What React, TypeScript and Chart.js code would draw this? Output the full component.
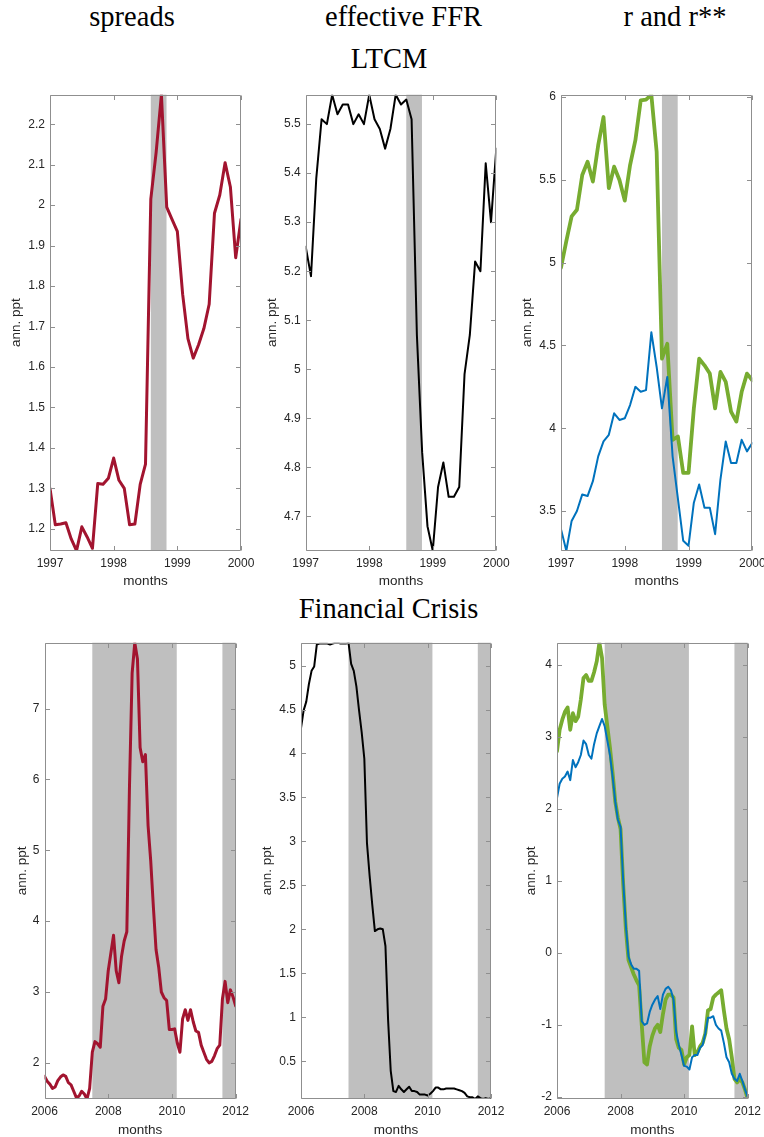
import React, { useEffect, useRef } from 'react';
import { Chart, registerables } from 'chart.js';

Chart.register(...registerables);
Chart.defaults.font.family = "'Liberation Sans', Arial, Helvetica, sans-serif";
Chart.defaults.color = '#262626';

// ---------- categories (monthly dates as decimal years) ----------
const ltcmMonths = Array.from({ length: 37 }, (_, i) => 1997 + i / 12);
const crisisMonths = Array.from({ length: 73 }, (_, i) => 2006 + i / 12);

// ---------- LTCM episode (Jan 1997 - Jan 2000) ----------
const ltcmSpreads = [
  1.30, 1.21, 1.212, 1.215, 1.175, 1.146, 1.205, 1.18, 1.152, 1.312, 1.31, 1.325,
  1.375, 1.32, 1.30, 1.21, 1.212, 1.31, 1.36, 2.015, 2.13, 2.273, 1.995, 1.965,
  1.935, 1.78, 1.67, 1.622, 1.655, 1.695, 1.755, 1.98, 2.025, 2.105, 2.045, 1.87,
  1.965,
];
const ltcmFFR = [
  5.25, 5.19, 5.39, 5.51, 5.50, 5.56, 5.52, 5.54, 5.54, 5.50, 5.52, 5.50,
  5.56, 5.51, 5.49, 5.45, 5.49, 5.56, 5.54, 5.55, 5.51, 5.07, 4.83, 4.68,
  4.63, 4.76, 4.81, 4.74, 4.74, 4.76, 4.99, 5.07, 5.22, 5.20, 5.42, 5.30,
  5.45,
];
const ltcmR = [
  3.39, 3.26, 3.44, 3.50, 3.60, 3.59, 3.68, 3.83, 3.92, 3.96, 4.09, 4.05,
  4.06, 4.14, 4.25, 4.22, 4.23, 4.58, 4.37, 4.12, 4.31, 3.83, 3.575, 3.32,
  3.29, 3.55, 3.66, 3.52, 3.52, 3.36, 3.69, 3.92, 3.79, 3.79, 3.93, 3.86,
  3.91,
];
const ltcmRss = [
  4.97, 5.13, 5.28, 5.32, 5.53, 5.61, 5.49, 5.71, 5.88, 5.45, 5.58, 5.50,
  5.375, 5.59, 5.74, 5.98, 5.985, 6.015, 5.67, 4.42, 4.51, 3.93, 3.95, 3.73,
  3.73, 4.12, 4.42, 4.38, 4.33, 4.12, 4.34, 4.28, 4.10, 4.04, 4.22, 4.33,
  4.29,
];

// ---------- Financial crisis episode (Jan 2006 - Jan 2012) ----------
const crisisSpreads = [
  1.81, 1.74, 1.70, 1.64, 1.66, 1.75, 1.80, 1.83, 1.81, 1.72, 1.69, 1.60,
  1.51, 1.53, 1.60, 1.56, 1.49, 1.64, 2.15, 2.30, 2.27, 2.22, 2.80, 2.90,
  3.30, 3.55, 3.80, 3.30, 3.13, 3.50, 3.72, 3.85, 5.90, 7.50, 7.93, 7.70,
  6.45, 6.25, 6.35, 5.35, 4.85, 4.20, 3.60, 3.35, 3.00, 2.92, 2.88, 2.47,
  2.47, 2.48, 2.28, 2.15, 2.62, 2.75, 2.60, 2.75, 2.58, 2.45, 2.43, 2.25,
  2.15, 2.05, 2.00, 2.02, 2.10, 2.20, 2.25, 2.90, 3.15, 2.85, 3.03, 2.93,
  2.80,
];
const crisisFFR = [
  4.29, 4.49, 4.59, 4.79, 4.94, 4.99, 5.24, 5.25, 5.25, 5.25, 5.25, 5.24,
  5.25, 5.26, 5.26, 5.25, 5.25, 5.25, 5.26, 5.02, 4.94, 4.76, 4.49, 4.24,
  3.94, 2.98, 2.61, 2.28, 1.98, 2.00, 2.01, 2.00, 1.81, 0.97, 0.39, 0.16,
  0.15, 0.22, 0.18, 0.15, 0.18, 0.21, 0.16, 0.16, 0.15, 0.12, 0.12, 0.12,
  0.11, 0.13, 0.16, 0.20, 0.20, 0.18, 0.18, 0.19, 0.19, 0.19, 0.19, 0.18,
  0.17, 0.16, 0.14, 0.10, 0.09, 0.09, 0.07, 0.10, 0.08, 0.07, 0.08, 0.07,
  0.08,
];
const crisisR = [
  2.15, 2.35, 2.42, 2.45, 2.52, 2.40, 2.68, 2.58, 2.65, 2.75, 2.95, 2.90,
  2.75, 2.70, 2.90, 3.05, 3.15, 3.25, 3.15, 2.95, 2.75, 2.45, 2.10, 1.85,
  1.75, 1.00, 0.38, -0.05, -0.16, -0.22, -0.22, -0.25, -0.95, -1.00, -0.98, -0.82,
  -0.72, -0.65, -0.60, -0.78, -0.58, -0.50, -0.47, -0.52, -0.65, -1.10, -1.28, -1.42,
  -1.57, -1.58, -1.62, -1.45, -1.42, -1.42, -1.32, -1.28, -1.12, -0.90, -0.90, -0.88,
  -1.00, -1.05, -1.08, -1.25, -1.45, -1.52, -1.68, -1.75, -1.78, -1.68, -1.78, -1.90,
  -2.00,
];
const crisisRss = [
  2.80, 3.10, 3.24, 3.35, 3.41, 3.10, 3.33, 3.22, 3.28, 3.52, 3.82, 3.86,
  3.78, 3.78, 3.90, 4.05, 4.31, 4.10, 3.45, 3.15, 2.85, 2.50, 2.10, 1.88,
  1.72, 0.95, 0.33, -0.10, -0.20, -0.30, -0.38, -0.45, -1.00, -1.52, -1.55, -1.30,
  -1.15, -1.05, -1.00, -1.10, -0.85, -0.65, -0.58, -0.58, -0.62, -1.20, -1.32, -1.35,
  -1.55, -1.45, -1.42, -1.02, -1.42, -1.38, -1.30, -1.25, -1.12, -0.80, -0.78, -0.62,
  -0.58, -0.55, -0.52, -0.80, -1.05, -1.20, -1.45, -1.75, -1.80, -1.75, -1.80, -1.90,
  -2.03,
];

// ---------- shaded periods ----------
const ltcmShade = [[1998.583, 1998.83]];
const crisisShade = [[2007.5, 2010.15], [2011.583, 2012]];

// ---------- tick values ----------
const ltcmXTicks = [1997, 1998, 1999, 2000];
const crisisXTicks = [2006, 2008, 2010, 2012];
const ltcmSpreadsYTicks = [1.2, 1.3, 1.4, 1.5, 1.6, 1.7, 1.8, 1.9, 2, 2.1, 2.2];
const ltcmFFRYTicks = [4.7, 4.8, 4.9, 5, 5.1, 5.2, 5.3, 5.4, 5.5];
const ltcmRYTicks = [3.5, 4, 4.5, 5, 5.5, 6];
const crisisSpreadsYTicks = [2, 3, 4, 5, 6, 7];
const crisisFFRYTicks = [0.5, 1, 1.5, 2, 2.5, 3, 3.5, 4, 4.5, 5];
const crisisRYTicks = [-2, -1, 0, 1, 2, 3, 4];

const RED = '#A2142F';
const BLACK = '#000000';
const BLUE = '#0072BD';
const GREEN = '#77AC30';
const SHADE = '#bfbfbf';
const BOX = '#8f8f8f';
const TICK_SIZE = 12;
const LABEL_SIZE = 13.5;

type Series = { label: string; values: number[]; color: string; width: number };
type PanelDef = {
  left: number; top: number; width: number; height: number;
  area: { l: number; t: number; r: number; b: number };
  x: number[]; xMin: number; xMax: number;
  series: Series[]; shade: number[][];
  xTicks: number[]; yTicks: number[];
  yTitleX: number; xTitleY: number;
};

function fmt(v: number) {
  return String(Math.round(v * 1000) / 1000);
}

function makeDecor(shade: number[][], xTicks: number[], yTicks: number[]) {
  return {
    id: 'decor',
    beforeDatasetsDraw(chart: any) {
      const { ctx, chartArea: a, scales } = chart;
      const xs = scales.x;
      ctx.save();
      ctx.fillStyle = SHADE;
      for (const [s, e] of shade) {
        const x0 = Math.max(a.left, xs.getPixelForValue(s));
        const x1 = Math.min(a.right, xs.getPixelForValue(e));
        ctx.fillRect(x0, a.top, x1 - x0, a.bottom - a.top);
      }
      ctx.restore();
    },
    afterDatasetsDraw(chart: any) {
      const { ctx, chartArea: a, scales } = chart;
      const tl = 4.5;
      ctx.save();
      ctx.strokeStyle = BOX;
      ctx.lineWidth = 1;
      const L = Math.round(a.left) + 0.5;
      const R = Math.round(a.right) - 0.5;
      const T = Math.round(a.top) + 0.5;
      const B = Math.round(a.bottom) - 0.5;
      ctx.beginPath();
      ctx.rect(L, T, R - L, B - T);
      for (const v of yTicks) {
        const py = Math.round(scales.y.getPixelForValue(v)) + 0.5;
        ctx.moveTo(L, py); ctx.lineTo(L + tl, py);
        ctx.moveTo(R, py); ctx.lineTo(R - tl, py);
      }
      for (const v of xTicks) {
        const px = Math.round(scales.x.getPixelForValue(v)) + 0.5;
        ctx.moveTo(px, B); ctx.lineTo(px, B - tl);
        ctx.moveTo(px, T); ctx.lineTo(px, T + tl);
      }
      ctx.stroke();
      ctx.restore();
    },
  };
}

function Panel({ def }: { def: PanelDef }) {
  const ref = useRef<HTMLCanvasElement>(null);
  useEffect(() => {
    const p = def;
    const lh = LABEL_SIZE * 1.2;
    const all = p.series.flatMap((s) => s.values);
    const yMin = Math.min(...all);
    const yMax = Math.max(...all);
    const chart = new Chart(ref.current as HTMLCanvasElement, {
      type: 'line',
      data: {
        datasets: p.series.map((s) => ({
          label: s.label,
          data: p.x.map((xv, i) => ({ x: xv, y: s.values[i] })),
          borderColor: s.color,
          borderWidth: s.width,
          pointRadius: 0,
          tension: 0,
          fill: false,
          borderJoinStyle: 'round',
          borderCapStyle: 'round',
        })),
      },
      options: {
        animation: false,
        responsive: false,
        maintainAspectRatio: false,
        events: [],
        layout: {
          padding: {
            left: 0,
            top: p.area.t - p.top,
            right: p.left + p.width - p.area.r,
            bottom: 0,
          },
        },
        plugins: {
          legend: { display: false },
          tooltip: { enabled: false },
          title: { display: false },
        },
        scales: {
          x: {
            type: 'linear',
            bounds: 'data',
            min: p.xMin,
            max: p.xMax,
            grid: { display: false, drawTicks: false, tickLength: 0 },
            border: { display: false },
            afterBuildTicks: (s: any) => { s.ticks = p.xTicks.map((v) => ({ value: v })); },
            afterFit: (s: any) => {
              s.height = p.top + p.height - p.area.b;
              s.paddingLeft = 0; s.paddingRight = 0;
            },
            ticks: {
              autoSkip: false, maxRotation: 0, minRotation: 0,
              padding: 13 - TICK_SIZE * 0.6,
              color: '#262626',
              font: { size: TICK_SIZE },
              callback: (v: any) => String(v),
            },
            title: {
              display: true, text: 'months', color: '#262626',
              font: { size: LABEL_SIZE },
              padding: { top: 0, bottom: p.height - (p.xTitleY - p.top) - lh / 2 },
            },
          },
          y: {
            type: 'linear',
            bounds: 'data',
            min: yMin,
            max: yMax,
            grid: { display: false, drawTicks: false, tickLength: 0 },
            border: { display: false },
            afterBuildTicks: (s: any) => { s.ticks = p.yTicks.map((v) => ({ value: v })); },
            afterFit: (s: any) => {
              s.width = p.area.l - p.left;
              s.paddingTop = 0; s.paddingBottom = 0;
            },
            ticks: {
              autoSkip: false,
              padding: 5,
              color: '#262626',
              font: { size: TICK_SIZE },
              callback: (v: any) => fmt(Number(v)),
            },
            title: {
              display: true, text: 'ann. ppt', color: '#262626',
              font: { size: LABEL_SIZE },
              padding: { top: p.yTitleX - p.left - lh / 2, bottom: 0 },
            },
          },
        },
      } as any,
      plugins: [makeDecor(p.shade, p.xTicks, p.yTicks)],
    });
    return () => chart.destroy();
  }, [def]);
  return (
    <canvas
      ref={ref}
      width={def.width}
      height={def.height}
      style={{ position: 'absolute', left: def.left, top: def.top, width: def.width, height: def.height }}
    />
  );
}

const TOP_T = 94.7, TOP_B = 550.7, BOT_T = 642.7, BOT_B = 1099;

const panels: PanelDef[] = [
  {
    left: 0, top: 85, width: 270, height: 515,
    area: { l: 50, t: TOP_T, r: 241, b: TOP_B },
    x: ltcmMonths, xMin: 1997, xMax: 2000,
    series: [{ label: 'spreads', values: ltcmSpreads, color: RED, width: 3 }],
    shade: ltcmShade, xTicks: ltcmXTicks, yTicks: ltcmSpreadsYTicks,
    yTitleX: 16.5, xTitleY: 581.7,
  },
  {
    left: 255, top: 85, width: 270, height: 515,
    area: { l: 305.7, t: TOP_T, r: 496.3, b: TOP_B },
    x: ltcmMonths, xMin: 1997, xMax: 2000,
    series: [{ label: 'effective FFR', values: ltcmFFR, color: BLACK, width: 2 }],
    shade: ltcmShade, xTicks: ltcmXTicks, yTicks: ltcmFFRYTicks,
    yTitleX: 272.2, xTitleY: 581.7,
  },
  {
    left: 505, top: 85, width: 259, height: 515,
    area: { l: 561, t: TOP_T, r: 752.3, b: TOP_B },
    x: ltcmMonths, xMin: 1997, xMax: 2000,
    series: [
      { label: 'r', values: ltcmR, color: BLUE, width: 2 },
      { label: 'r**', values: ltcmRss, color: GREEN, width: 3.8 },
    ],
    shade: ltcmShade, xTicks: ltcmXTicks, yTicks: ltcmRYTicks,
    yTitleX: 527, xTitleY: 581.7,
  },
  {
    left: 0, top: 630, width: 270, height: 507,
    area: { l: 44.5, t: BOT_T, r: 235.7, b: BOT_B },
    x: crisisMonths, xMin: 2006, xMax: 2012,
    series: [{ label: 'spreads', values: crisisSpreads, color: RED, width: 3 }],
    shade: crisisShade, xTicks: crisisXTicks, yTicks: crisisSpreadsYTicks,
    yTitleX: 22.5, xTitleY: 1130,
  },
  {
    left: 255, top: 630, width: 270, height: 507,
    area: { l: 301, t: BOT_T, r: 491, b: BOT_B },
    x: crisisMonths, xMin: 2006, xMax: 2012,
    series: [{ label: 'effective FFR', values: crisisFFR, color: BLACK, width: 2 }],
    shade: crisisShade, xTicks: crisisXTicks, yTicks: crisisFFRYTicks,
    yTitleX: 267.5, xTitleY: 1130,
  },
  {
    left: 505, top: 630, width: 259, height: 507,
    area: { l: 557, t: BOT_T, r: 747.7, b: BOT_B },
    x: crisisMonths, xMin: 2006, xMax: 2012,
    series: [
      { label: 'r', values: crisisR, color: BLUE, width: 2 },
      { label: 'r**', values: crisisRss, color: GREEN, width: 3.8 },
    ],
    shade: crisisShade, xTicks: crisisXTicks, yTicks: crisisRYTicks,
    yTitleX: 531, xTitleY: 1130,
  },
];

const TITLE_SIZE = 28.5;
const titles = [
  { text: 'spreads', cx: 132, base: 27 },
  { text: 'effective FFR', cx: 403.5, base: 27 },
  { text: 'r and r**', cx: 675, base: 27 },
  { text: 'LTCM', cx: 389, base: 69 },
  { text: 'Financial Crisis', cx: 388.5, base: 619 },
];

export default function App() {
  return (
    <div
      style={{
        position: 'absolute', left: 0, top: 0, width: 764, height: 1137,
        overflow: 'hidden', background: '#ffffff',
      }}
    >
      {titles.map((t) => (
        <div
          key={t.text}
          style={{
            position: 'absolute',
            left: t.cx,
            top: t.base - 0.8375 * TITLE_SIZE,
            transform: 'translateX(-50%)',
            fontFamily: "'Liberation Serif', 'Times New Roman', serif",
            fontSize: TITLE_SIZE,
            lineHeight: `${TITLE_SIZE}px`,
            whiteSpace: 'nowrap',
            color: '#000',
          }}
        >
          {t.text}
        </div>
      ))}
      {panels.map((p, i) => (
        <Panel key={i} def={p} />
      ))}
    </div>
  );
}
